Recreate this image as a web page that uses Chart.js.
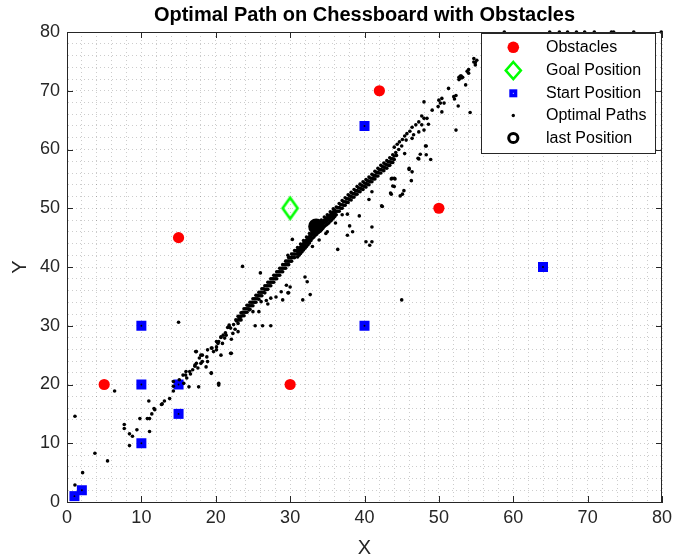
<!DOCTYPE html>
<html><head><meta charset="utf-8">
<script src="https://cdn.jsdelivr.net/npm/chart.js@4"></script>
<style>html,body{margin:0;padding:0;background:#fff}canvas{display:block}</style>
</head><body>
<canvas id="c" width="673" height="559"></canvas>
<script>
const titleText = 'Optimal Path on Chessboard with Obstacles';
const legendLabels = ['Obstacles','Goal Position','Start Position','Optimal Paths','last Position'];
const majorTicks = [0,10,20,30,40,50,60,70,80];

const obstacles = [[5,20],[15,45],[30,20],[42,70],[50,50]];
const goal = [[30,50]];
const starts = [[1,1],[2,2],[10,10],[10,20],[10,30],[15,15],[15,20],[40,30],[40,64],[64,40]];
const lastPos = [[33.5,46.9]];

const pathLow = [[1.07,14.6],[1.07,2.9],[2.1,5.0],[3.75,8.3],[5.45,7.0],[6.4,18.9],[7.7,13.2],[7.7,12.5],[8.4,11.6],[8.8,11.2],[8.4,9.6],[9.4,12.3],[9.8,14.2],[10.8,14.2],[11.1,14.2],[11.1,12.0],[11.0,17.2],[11.4,15.0],[11.8,15.7],[11.7,15.9],[12.7,16.6],[12.8,16.7],[13.1,17.2],[13.8,17.6],[14.3,20.5],[14.3,19.7],[14.3,18.9],[15.1,20.8],[15.6,21.6],[15.7,20.2],[16.0,22.2],[16.1,21.1],[16.4,19.6],[16.6,21.8],[16.5,22.2],[15.95,21.6],[16.9,22.5],[17.2,23.3],[17.2,23.1],[17.6,22.8],[17.7,19.6],[18.0,25.0],[17.4,25.6],[17.3,25.6],[17.4,23.6],[17.8,24.5],[18.0,23.6],[18.2,25.0],[18.2,23.9],[18.7,23.0],[18.8,24.7],[18.9,23.9],[18.9,25.9],[19.4,22.0],[19.4,21.9],[19.4,26.2],[19.5,26.2],[19.7,25.6],[20.1,26.4],[20.1,25.9],[20.3,27.0],[20.4,20.2],[20.4,19.9],[20.7,25.0],[20.9,27.0],[20.1,27.3],[20.7,28.0],[20.4,27.3],[20.7,28.1],[21.0,28.4],[21.2,27.9],[21.3,28.8],[21.4,28.4],[21.6,29.7],[21.8,30.1],[22.0,25.3],[22.1,25.3],[22.1,27.7],[22.3,28.7],[23.0,29.0],[22.0,29.6],[22.4,30.2],[22.6,29.4],[22.8,30.8],[21.8,29.8],[22.7,31.0],[23.2,31.3]];

const pathBandA = [[23.0,30.4],[23.0,31.0],[23.0,31.6],[23.4,31.0],[23.4,31.6],[23.4,32.2],[23.8,31.7],[23.8,32.3],[23.8,32.9],[24.2,32.3],[24.2,32.9],[24.2,33.5],[24.6,32.8],[24.6,33.4],[24.6,34.0],[25.0,33.4],[25.0,34.0],[25.0,34.6],[25.4,34.0],[25.4,34.6],[25.4,35.2],[25.8,34.5],[25.8,35.1],[25.8,35.7],[26.2,35.1],[26.2,35.7],[26.2,36.3],[26.6,35.6],[26.6,36.2],[26.6,36.8],[27.0,36.2],[27.0,36.8],[27.0,37.4],[27.4,36.8],[27.4,37.4],[27.4,38.0],[27.8,37.4],[27.8,38.0],[27.8,38.6],[28.2,38.0],[28.2,38.6],[28.2,39.2],[28.6,38.6],[28.6,39.2],[28.6,39.8],[29.0,39.2],[29.0,39.8],[29.0,40.4],[29.4,39.8],[29.4,40.4],[29.4,41.0],[29.8,40.4],[29.8,41.0],[29.8,41.6],[30.2,41.0],[30.2,41.6],[30.2,42.2],[30.6,41.6],[30.6,42.2],[30.6,42.8],[26.1,34.1],[26.8,34.3],[27.4,34.7],[28.1,34.9],[28.8,35.8],[29.5,36.9],[29.8,35.6],[25.0,32.4],[24.5,32.7]];

const pathBandAmid = [[23.2,31.0],[23.2,31.6],[23.6,31.7],[23.6,32.3],[24.0,32.3],[24.0,32.9],[24.4,32.9],[24.4,33.5],[24.8,33.4],[24.8,34.0],[25.2,34.0],[25.2,34.6],[25.6,34.6],[25.6,35.2],[26.0,35.1],[26.0,35.7],[26.4,35.7],[26.4,36.3],[26.8,36.2],[26.8,36.8],[27.2,36.8],[27.2,37.4],[27.6,37.4],[27.6,38.0],[28.0,38.0],[28.0,38.6],[28.4,38.6],[28.4,39.2],[28.8,39.2],[28.8,39.8],[29.2,39.8],[29.2,40.4],[29.6,40.4],[29.6,41.0],[30.0,41.0],[30.0,41.6],[30.4,41.6],[30.4,42.2],[30.8,42.2],[30.8,42.8]];

const pathBandB = [[31.0,41.7],[31.0,42.3],[31.0,42.8],[31.0,43.3],[31.4,42.3],[31.4,42.9],[31.4,43.4],[31.4,43.9],[31.8,42.9],[31.8,43.5],[31.8,44.0],[31.8,44.5],[32.2,43.5],[32.2,44.1],[32.2,44.6],[32.2,45.1],[32.6,44.1],[32.6,44.7],[32.6,45.2],[32.6,45.7],[33.0,44.9],[33.0,45.5],[33.0,46.0],[33.0,46.5],[33.4,45.4],[33.4,46.0],[33.4,46.5],[33.4,47.0],[33.8,45.9],[33.8,46.5],[33.8,47.0],[33.8,47.5],[34.2,46.4],[34.2,47.0],[34.2,47.5],[34.2,48.0],[34.6,46.9],[34.6,47.5],[34.6,48.0],[34.6,48.5],[35.0,47.3],[35.0,47.9],[35.0,48.4],[35.0,48.9],[35.4,47.8],[35.4,48.4],[35.4,48.9],[35.4,49.4],[35.8,48.3],[35.8,48.9],[35.8,49.4],[35.8,49.9],[34.8,45.7],[33.9,44.6],[33.0,43.5]];

const pathBandBmid = [[31.2,42.0],[31.2,42.6],[31.2,43.1],[31.6,42.6],[31.6,43.2],[31.6,43.7],[32.0,43.2],[32.0,43.8],[32.0,44.3],[32.4,43.8],[32.4,44.4],[32.4,44.9],[32.8,44.5],[32.8,45.1],[32.8,45.6],[33.2,45.1],[33.2,45.7],[33.2,46.2],[33.6,45.6],[33.6,46.2],[33.6,46.7],[34.0,46.1],[34.0,46.7],[34.0,47.2],[34.4,46.6],[34.4,47.2],[34.4,47.7],[34.8,47.1],[34.8,47.7],[34.8,48.2],[35.2,47.5],[35.2,48.1],[35.2,48.6],[35.6,48.0],[35.6,48.6],[35.6,49.1],[36.0,48.6],[36.0,49.2],[36.0,49.7]];

const pathBandC = [[36.2,48.9],[36.2,49.5],[36.2,50.2],[36.6,49.5],[36.6,50.1],[36.6,50.8],[37.0,50.0],[37.0,50.6],[37.0,51.3],[37.4,50.5],[37.4,51.1],[37.4,51.8],[37.8,51.0],[37.8,51.6],[37.8,52.3],[38.2,51.4],[38.2,52.0],[38.2,52.7],[38.6,51.9],[38.6,52.5],[38.6,53.2],[39.0,52.4],[39.0,53.0],[39.0,53.7],[39.4,52.8],[39.4,53.4],[39.4,54.1],[39.8,53.2],[39.8,53.8],[39.8,54.5],[40.2,53.6],[40.2,54.2],[40.2,54.9],[40.6,54.0],[40.6,54.6],[40.6,55.3],[41.0,54.5],[41.0,55.1],[41.0,55.8],[41.4,55.0],[41.4,55.6],[41.4,56.3],[41.8,55.5],[41.8,56.1],[41.8,56.8],[42.2,56.0],[42.2,56.6],[42.2,57.3],[42.6,56.4],[42.6,57.0],[42.6,57.7],[43.0,56.8],[43.0,57.4],[43.0,58.1],[43.4,57.3],[43.4,57.9],[43.4,58.6],[43.8,57.8],[43.8,58.4],[43.8,59.1]];

const pathBandCmid = [[36.4,49.5],[36.4,50.1],[36.8,50.0],[36.8,50.6],[37.2,50.5],[37.2,51.1],[37.6,51.0],[37.6,51.6],[38.0,51.5],[38.0,52.1],[38.4,51.9],[38.4,52.5],[38.8,52.4],[38.8,53.0],[39.2,52.9],[39.2,53.5],[39.6,53.3],[39.6,53.9],[40.0,53.7],[40.0,54.3],[40.4,54.1],[40.4,54.7],[40.8,54.5],[40.8,55.1],[41.2,55.0],[41.2,55.6],[41.6,55.5],[41.6,56.1],[42.0,56.0],[42.0,56.6],[42.4,56.5],[42.4,57.1],[42.8,56.9],[42.8,57.5],[43.2,57.3],[43.2,57.9],[43.6,57.8],[43.6,58.4],[44.0,58.3],[44.0,58.9]];

const pathHigh = [[44.0,60.4],[44.4,60.9],[44.7,61.3],[45.1,61.7],[45.4,62.3],[45.7,62.7],[46.1,63.1],[46.4,63.8],[46.9,64.2],[47.3,64.7],[47.7,64.2],[48.0,65.3],[48.4,65.3],[48.6,64.3],[44.2,59.5],[44.6,60.0],[45.0,60.6],[44.3,59.0],[45.6,61.6],[46.6,62.5],[46.4,61.9],[47.3,63.0],[48.0,63.3],[48.3,60.6],[49.1,66.7],[49.9,67.3],[50.2,67.9],[50.0,68.4],[50.4,68.7],[50.7,67.9],[50.4,66.4],[48.0,68.1],[51.3,70.4],[52.0,69.0],[52.3,69.2],[52.1,68.6],[52.6,67.4],[52.7,72.3],[53.0,72.5],[52.8,72.1],[53.2,72.3],[53.6,71.0],[53.8,73.3],[54.0,73.0],[54.0,73.6],[54.9,74.4],[54.7,74.9],[55.1,75.2],[54.7,75.5],[54.9,74.8],[52.9,72.5],[53.1,72.2],[52.7,71.9],[52.3,63.3],[54.2,66.3]];

const pathOutliers = [[15.0,30.6],[23.6,40.1],[26.0,39.0],[25.3,30.0],[26.3,30.0],[27.4,30.0],[25.8,32.4],[27.0,33.7],[29.0,34.4],[29.7,35.6],[30.0,36.6],[31.7,34.4],[32.7,35.3],[32.3,37.5],[32.0,38.3],[29.7,42.0],[30.3,44.7],[36.4,43.0],[37.7,45.4],[38.4,46.0],[38.0,47.0],[39.3,48.7],[41.0,46.8],[40.2,44.3],[41.0,44.3],[40.7,43.7],[42.3,50.4],[45.0,34.4],[37.0,48.9],[37.7,49.0],[36.1,47.5],[35.0,46.0],[43.6,52.4],[43.8,53.8],[44.0,55.1],[43.7,55.1],[45.1,52.4],[45.3,53.0],[46.3,54.7],[46.0,56.8],[46.4,56.2],[47.3,58.4],[47.5,59.2],[48.3,59.1],[48.9,58.3],[48.2,60.6],[42.4,50.3],[40.6,51.5],[41.0,52.8],[43.5,52.6],[44.8,52.1],[44.1,55.0],[43.6,55.0],[46.0,56.6],[47.2,58.5],[45.4,59.3],[44.0,53.7],[47.7,65.7]];

const pathTop = [[58.8,80],[64.9,80],[66.2,80],[67.3,80],[68.5,80],[69.6,80],[70.9,80],[73.2,80],[73.5,80],[76.2,80],[79.9,80]];

const toXY = a => a.map(([x,y]) => ({x, y}));
const pathPoints = toXY([].concat(pathLow, pathBandA, pathBandAmid, pathBandB, pathBandBmid, pathBandC, pathBandCmid, pathHigh, pathOutliers, pathTop));

const FONT = '"Liberation Sans", Arial, Helvetica, sans-serif';
const AX = '#262626';

function diamondImg(w, h, lw, color) {
  const c = document.createElement('canvas');
  c.width = Math.ceil(w + lw * 3); c.height = Math.ceil(h + lw * 3);
  const g = c.getContext('2d');
  const cx = c.width / 2, cy = c.height / 2;
  g.strokeStyle = color; g.lineWidth = lw;
  g.beginPath();
  g.moveTo(cx, cy - h / 2); g.lineTo(cx + w / 2, cy); g.lineTo(cx, cy + h / 2); g.lineTo(cx - w / 2, cy);
  g.closePath(); g.stroke();
  return c;
}
const goalImg = diamondImg(15, 21, 2.6, '#00ff00');

const decor = {
  id: 'decor',
  afterDraw(chart) {
    const {ctx, chartArea: a, scales: {x, y}} = chart;
    ctx.save();
    ctx.strokeStyle = AX; ctx.lineWidth = 1;
    ctx.beginPath();
    ctx.moveTo(a.left, a.top + 0.5); ctx.lineTo(a.right, a.top + 0.5);
    ctx.moveTo(a.right - 0.5, a.top); ctx.lineTo(a.right - 0.5, a.bottom);
    ctx.stroke();
    ctx.beginPath();
    majorTicks.forEach(v => {
      const px = Math.round(x.getPixelForValue(v)) + 0.5;
      ctx.moveTo(px, a.bottom); ctx.lineTo(px, a.bottom - 6);
      ctx.moveTo(px, a.top); ctx.lineTo(px, a.top + 6);
      const py = Math.round(y.getPixelForValue(v)) + 0.5;
      ctx.moveTo(a.left, py); ctx.lineTo(a.left + 6, py);
      ctx.moveTo(a.right, py); ctx.lineTo(a.right - 6, py);
    });
    ctx.stroke();

    // legend
    const L = 481, T = 33, W = 174, H = 120;
    ctx.fillStyle = '#fff'; ctx.fillRect(L, T, W, H);
    ctx.strokeStyle = AX; ctx.lineWidth = 1;
    ctx.strokeRect(L + 0.5, T + 0.5, W, H);
    const ys = [47.3, 70.5, 93.3, 115.5, 138];
    const mx = 513.3;
    ctx.fillStyle = '#ff0000';
    ctx.beginPath(); ctx.arc(mx, ys[0], 5.8, 0, Math.PI * 2); ctx.fill();
    ctx.strokeStyle = '#00ff00'; ctx.lineWidth = 2.6;
    ctx.beginPath();
    ctx.moveTo(mx, ys[1] - 8.5); ctx.lineTo(mx + 7.5, ys[1]); ctx.lineTo(mx, ys[1] + 8.5); ctx.lineTo(mx - 7.5, ys[1]);
    ctx.closePath(); ctx.stroke();
    ctx.fillStyle = '#0000ff'; ctx.fillRect(mx - 4, ys[2] - 4, 8, 8);
    ctx.fillStyle = '#9aa0ff'; ctx.fillRect(mx - 0.5, ys[2] - 0.5, 1.2, 1.2);
    ctx.fillStyle = '#000';
    ctx.beginPath(); ctx.arc(mx, ys[3], 1.7, 0, Math.PI * 2); ctx.fill();
    ctx.strokeStyle = '#000'; ctx.lineWidth = 3;
    ctx.beginPath(); ctx.arc(mx, ys[4], 4.6, 0, Math.PI * 2); ctx.stroke();
    ctx.fillStyle = '#000';
    ctx.font = '16px ' + FONT; ctx.textAlign = 'left'; ctx.textBaseline = 'middle';
    legendLabels.forEach((t, i) => ctx.fillText(t, 546, ys[i] + 0.5));

    ctx.font = 'bold 20px ' + FONT; ctx.textAlign = 'center'; ctx.textBaseline = 'middle';
    ctx.fillStyle = '#000';
    ctx.fillText(titleText, (a.left + a.right) / 2, 15);
    ctx.restore();
  }
};

const tickCb = v => majorTicks.includes(v) ? String(v) : '';

new Chart(document.getElementById('c'), {
  type: 'scatter',
  data: {
    datasets: [
      {label: legendLabels[4], data: toXY(lastPos), pointStyle: 'circle', pointRadius: 6.5, borderWidth: 3, borderColor: '#000', backgroundColor: '#000', order: 1, clip: false},
      {label: legendLabels[3], data: pathPoints, pointStyle: 'circle', pointRadius: 1.8, borderWidth: 0, backgroundColor: '#000', order: 2, clip: false},
      {label: 'start-dot', data: toXY(starts), pointStyle: 'circle', pointRadius: 0.9, borderWidth: 0, backgroundColor: '#000', order: 3, clip: false},
      {label: legendLabels[2], data: toXY(starts), pointStyle: 'rect', pointRadius: 7.07, borderWidth: 0, backgroundColor: '#0000ff', order: 4, clip: false},
      {label: legendLabels[1], data: toXY(goal), pointStyle: goalImg, pointRadius: 10, order: 5, clip: false},
      {label: legendLabels[0], data: toXY(obstacles), pointStyle: 'circle', pointRadius: 5.6, borderWidth: 0, backgroundColor: '#ff0000', order: 6, clip: false}
    ]
  },
  options: {
    responsive: false,
    devicePixelRatio: 1,
    animation: false,
    events: [],
    layout: {padding: {top: 32, right: 9, left: 0, bottom: 0}},
    plugins: {legend: {display: false}, title: {display: false}, tooltip: {enabled: false}},
    scales: {
      x: {
        type: 'linear', min: 0, max: 80,
        afterFit: s => { s.height = 57; s.paddingLeft = 0; s.paddingRight = 0; },
        ticks: {stepSize: 2, autoSkip: false, maxRotation: 0, callback: tickCb, color: AX, padding: 5, font: {family: FONT, size: 18}},
        grid: {color: 'rgba(0,0,0,0.2)', lineWidth: 1, drawTicks: false},
        border: {display: true, color: AX, width: 1, dash: [1, 3]},
        title: {display: true, text: 'X', color: AX, font: {family: FONT, size: 20, lineHeight: 1.1}, padding: {top: 0, bottom: 0}}
      },
      y: {
        type: 'linear', min: 0, max: 80,
        afterFit: s => { s.width = 67; s.paddingTop = 0; s.paddingBottom = 0; },
        ticks: {stepSize: 2, autoSkip: false, callback: tickCb, color: AX, padding: 7, font: {family: FONT, size: 18}},
        grid: {color: 'rgba(0,0,0,0.2)', lineWidth: 1, drawTicks: false},
        border: {display: true, color: AX, width: 1, dash: [1, 3]},
        title: {display: true, text: 'Y', color: AX, font: {family: FONT, size: 20, lineHeight: 1.1}, padding: {top: 9, bottom: 0}}
      }
    }
  },
  plugins: [decor]
});
</script>
</body></html>
